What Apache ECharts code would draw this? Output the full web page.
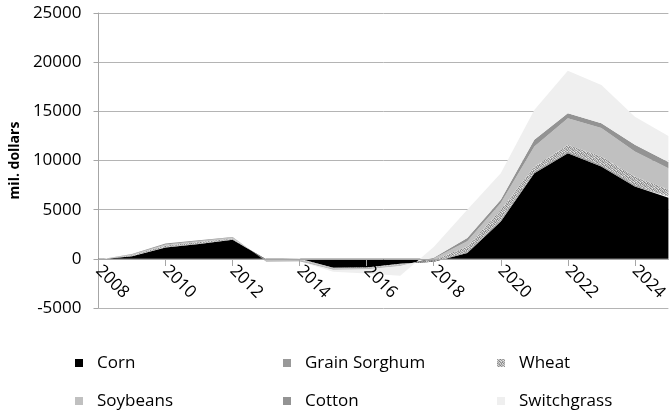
<!DOCTYPE html>
<html>
<head>
<meta charset="utf-8">
<script src="https://cdn.jsdelivr.net/npm/echarts@6/dist/echarts.min.js"></script>
<style>
html,body{margin:0;padding:0;background:#fff;}
#chart{width:670px;height:415px;}
</style>
</head>
<body>
<div id="chart"></div>
<script>
const years = ['2008','2009','2010','2011','2012','2013','2014','2015','2016','2017','2018','2019','2020','2021','2022','2023','2024','2025'];
const corn         = [-80, 270, 1150, 1500, 1950, -50,   0, -900, -870, -500, -300,  600, 3800, 8700, 10750, 9400, 7350, 6200];
const grainSorghum = [  0,  20,   50,   50,   30, -20, -20,  -20,  -20,  -20,   30,  100,  150,  150,   150,  150,  150,  150];
const wheat        = [-20,  80,  150,  150,  100, -60, -60,  -50,  -50,  -60,  150,  550, 1050,  550,   700,  850,  880,  700];
const soybeans     = [  0,  80,  120,  120,   80, -80,-100,  -80,  -80, -100,  150,  550,  680, 2020,  2700, 2900, 2530, 2150];
const cotton       = [  0,  50,   80,   80,   60, -60, -70,  -50,  -50,  -60,   80,  330,  330,  680,   500,  500,  680,  650];
const switchgrass  = [  0,   0,    0,    0,    0,   0,   0, -220, -430, -990, 1100, 2870, 2700, 3040,  4330, 3880, 2870, 2650];
const yTicks = { min: -5000, max: 25000, interval: 5000 };

// speckled texture for wheat (fixed pattern)
function makeSpeckle() {
  const shades = [
    ['#9c9c9c','#d6d6d6','#b0b0b0','#808080','#cccccc','#a6a6a6'],
    ['#e4e4e4','#8e8e8e','#bcbcbc','#dcdcdc','#969696','#c6c6c6'],
    ['#aaaaaa','#d0d0d0','#7e7e7e','#b6b6b6','#e8e8e8','#9a9a9a'],
    ['#cacaca','#a0a0a0','#dedede','#929292','#b2b2b2','#848484'],
    ['#8a8a8a','#c0c0c0','#a4a4a4','#d4d4d4','#8c8c8c','#e0e0e0'],
    ['#d2d2d2','#acacac','#949494','#c4c4c4','#a2a2a2','#bababa']
  ];
  const c = document.createElement('canvas');
  c.width = 6; c.height = 6;
  const ctx = c.getContext('2d');
  for (let r = 0; r < 6; r++) for (let k = 0; k < 6; k++) {
    ctx.fillStyle = shades[r][k];
    ctx.fillRect(k, r, 1, 1);
  }
  return c;
}
const wheatPattern = { image: makeSpeckle(), repeat: 'repeat' };

const FONT = 'Open Sans';
const FS = 17;
function areaSeries(name, data, color) {
  return {
    name: name, type: 'line', data: data,
    stack: 'total', stackStrategy: 'all',
    symbol: 'none', showSymbol: false,
    lineStyle: { width: 0, opacity: 0 },
    itemStyle: { color: color },
    areaStyle: { color: color, opacity: 1 },
    emphasis: { disabled: true }
  };
}
const legendBase = {
  orient: 'vertical', top: 353, height: 60, padding: 0, icon: 'rect', itemWidth: 8, itemHeight: 8,
  itemGap: 18, selectedMode: false,
  textStyle: { fontFamily: FONT, fontSize: FS, color: '#000', lineHeight: 20, padding: [0,0,0,9] }
};

const chart = echarts.init(document.getElementById('chart'));
chart.setOption({
  animation: false,
  backgroundColor: '#fff',
  grid: { left: 90, top: 13, width: 584, height: 295, containLabel: false },
  legend: [
    Object.assign({}, legendBase, { left: 75, data: ['Corn', 'Soybeans'] }),
    Object.assign({}, legendBase, { left: 283, data: ['Grain Sorghum', 'Cotton'] }),
    Object.assign({}, legendBase, { left: 497, data: ['Wheat', 'Switchgrass'] })
  ],
  xAxis: {
    type: 'category', data: years, boundaryGap: false,
    offset: -49, z: 5,
    axisLine: { onZero: false, lineStyle: { color: '#a6a6a6', width: 1 } },
    axisTick: { show: true, interval: 1, length: 7, lineStyle: { color: '#a6a6a6' } },
    axisLabel: { interval: 1, rotate: -45, margin: 9, fontFamily: FONT, fontSize: FS, color: '#000' },
    splitLine: { show: false }
  },
  yAxis: {
    type: 'value', min: yTicks.min, max: yTicks.max, interval: yTicks.interval,
    name: 'mil. dollars', nameLocation: 'middle', nameGap: 70,
    nameTextStyle: { fontFamily: FONT, fontSize: 14, fontWeight: 'bold', color: '#000' },
    axisLine: { show: true, lineStyle: { color: '#a6a6a6', width: 1 } },
    axisTick: { show: true, length: 5, lineStyle: { color: '#a6a6a6' } },
    axisLabel: { margin: 17, fontFamily: FONT, fontSize: FS, color: '#000', formatter: function (v) { return String(v); } },
    splitLine: { show: true, lineStyle: { color: '#b4b4b4', width: 1 } }
  },
  series: [
    areaSeries('Corn', corn, '#000000'),
    areaSeries('Grain Sorghum', grainSorghum, '#999999'),
    areaSeries('Wheat', wheat, wheatPattern),
    areaSeries('Soybeans', soybeans, '#c0c0c0'),
    areaSeries('Cotton', cotton, '#939393'),
    areaSeries('Switchgrass', switchgrass, '#efefef')
  ]
});
</script>
</body>
</html>
